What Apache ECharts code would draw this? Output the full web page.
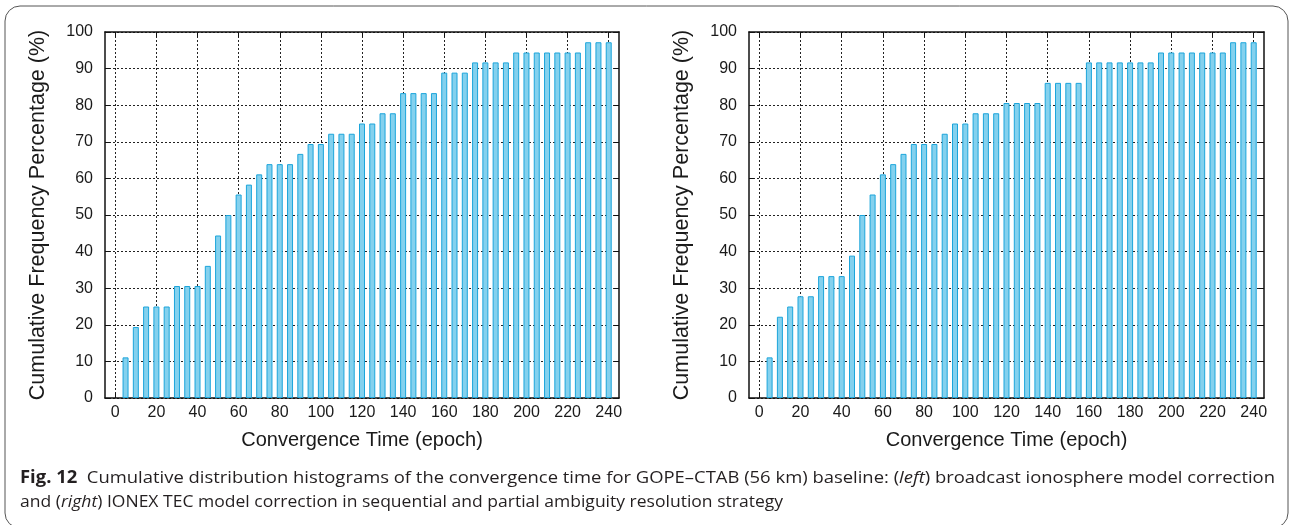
<!DOCTYPE html>
<html>
<head>
<meta charset="utf-8">
<script src="https://cdn.jsdelivr.net/npm/echarts@6/dist/echarts.min.js"></script>
<style>html,body{margin:0;padding:0;background:#fff;}#c{width:1290px;height:525px;}</style>
</head>
<body>
<div id="c"></div>
<script>
// ---- data ----
const epochs = [5,10,15,20,25,30,35,40,45,50,55,60,65,70,75,80,85,90,95,100,105,110,115,120,
                125,130,135,140,145,150,155,160,165,170,175,180,185,190,195,200,205,210,215,220,225,230,235,240];
const leftPct = [11.1,19.4,25.0,25.0,25.0,30.6,30.6,30.6,36.1,44.4,50.0,55.6,58.3,61.1,63.9,63.9,63.9,66.7,69.4,69.4,72.2,72.2,72.2,75.0,
                 75.0,77.8,77.8,83.3,83.3,83.3,83.3,88.9,88.9,88.9,91.7,91.7,91.7,91.7,94.4,94.4,94.4,94.4,94.4,94.4,94.4,97.2,97.2,97.2];
const rightPct = [11.1,22.2,25.0,27.8,27.8,33.3,33.3,33.3,38.9,50.0,55.6,61.1,63.9,66.7,69.4,69.4,69.4,72.2,75.0,75.0,77.8,77.8,77.8,80.6,
                  80.6,80.6,80.6,86.1,86.1,86.1,86.1,91.7,91.7,91.7,91.7,91.7,91.7,91.7,94.4,94.4,94.4,94.4,94.4,94.4,94.4,97.2,97.2,97.2];
const xTickValues = [0,20,40,60,80,100,120,140,160,180,200,220,240];
const xTitle = 'Convergence Time (epoch)';
const yTitle = 'Cumulative Frequency Percentage (%)';
const capBold = 'Fig. 12';
const capLine1a = '  Cumulative distribution histograms of the convergence time for GOPE\u2013CTAB (56 km) baseline: (';
const capLine1b = 'left';
const capLine1c = ') broadcast ionosphere model correction';
const capLine2a = 'and (';
const capLine2b = 'right';
const capLine2c = ') IONEX TEC model correction in sequential and partial ambiguity resolution strategy';

const chart = echarts.init(document.getElementById('c'), null, {renderer: 'canvas'});

const AX_FONT = 'Liberation Sans';
const dotted = {color: '#222', width: 1, type: [2, 2]};
const grids = [
  {left: 105, right: 671, top: 32, bottom: 127},
  {left: 749, right: 26, top: 32, bottom: 127}
];

const xAxes = [], yAxes = [], series = [];
[leftPct, rightPct].forEach((vals, g) => {
  const xMain = {
    type: 'value', gridIndex: g, min: -5, max: 245, position: 'bottom',
    name: xTitle, nameLocation: 'middle', nameGap: 32,
    nameTextStyle: {fontFamily: AX_FONT, fontSize: 20, color: '#1a1a1a'},
    axisLine: {show: true, onZero: false, lineStyle: {color: '#111', width: 1.5}},
    axisTick: {show: true, inside: true, length: 5, customValues: xTickValues, lineStyle: {color: '#111', width: 1}},
    axisLabel: {show: true, customValues: xTickValues, margin: 7, fontFamily: AX_FONT, fontSize: 16, color: '#1a1a1a'},
    splitLine: {show: true, lineStyle: dotted}
  };
  const xTop = {
    type: 'value', gridIndex: g, min: -5, max: 245, position: 'top',
    axisLine: {show: true, onZero: false, lineStyle: {color: '#111', width: 1.5}},
    axisTick: {show: true, inside: true, length: 5, customValues: xTickValues, lineStyle: {color: '#111', width: 1}},
    axisLabel: {show: false, customValues: xTickValues},
    splitLine: {show: false}
  };
  const yMain = {
    type: 'value', gridIndex: g, min: 0, max: 100, interval: 10, position: 'left',
    name: yTitle, nameLocation: 'middle', nameGap: 56,
    nameTextStyle: {fontFamily: AX_FONT, fontSize: 21.5, color: '#1a1a1a'},
    axisLine: {show: true, onZero: false, lineStyle: {color: '#111', width: 1.5}},
    axisTick: {show: true, inside: true, length: 5, lineStyle: {color: '#111', width: 1}},
    axisLabel: {show: true, margin: 12, fontFamily: AX_FONT, fontSize: 16, color: '#1a1a1a'},
    splitLine: {show: true, lineStyle: dotted}
  };
  const yRight = {
    type: 'value', gridIndex: g, min: 0, max: 100, interval: 10, position: 'right',
    axisLine: {show: true, onZero: false, lineStyle: {color: '#111', width: 1.5}},
    axisTick: {show: true, inside: true, length: 5, lineStyle: {color: '#111', width: 1}},
    axisLabel: {show: false},
    splitLine: {show: false}
  };
  xAxes.push(xMain, xTop);
  yAxes.push(yMain, yRight);
  series.push({
    type: 'bar', xAxisIndex: g * 2, yAxisIndex: g * 2, barWidth: 6,
    data: epochs.map((e, i) => [e, vals[i]]),
    itemStyle: {color: '#84d1ee', borderColor: '#1ca5db', borderWidth: 1},
    emphasis: {disabled: true}, silent: true
  });
});

// caption: measure text to fit the reference widths
const CAP_FONT = '"Open Sans"';
const CAP_SIZE = 17;
const mctx = document.createElement('canvas').getContext('2d');
function w(txt, style) { mctx.font = style + ' ' + CAP_SIZE + 'px ' + CAP_FONT; return mctx.measureText(txt).width; }
const line1W = w(capBold, 'bold') + w(capLine1a, 'normal') + w(capLine1b, 'italic') + w(capLine1c, 'normal');
const line2W = w(capLine2a, 'normal') + w(capLine2b, 'italic') + w(capLine2c, 'normal');
const capScale1 = 1255 / line1W;
const capScale2 = 763 / line2W;
const rich = {
  b: {fontFamily: CAP_FONT, fontSize: CAP_SIZE, fontWeight: 'bold', fill: '#231f20'},
  n: {fontFamily: CAP_FONT, fontSize: CAP_SIZE, fill: '#231f20'},
  i: {fontFamily: CAP_FONT, fontSize: CAP_SIZE, fontStyle: 'italic', fill: '#231f20'}
};

chart.setOption({
  backgroundColor: '#fff',
  animation: false,
  grid: grids,
  xAxis: xAxes,
  yAxis: yAxes,
  series: series,
  graphic: [
    {type: 'rect', shape: {x: 5, y: 6, width: 1283, height: 522, r: 15}, style: {fill: 'none', stroke: '#555', lineWidth: 1}, silent: true},
    {type: 'text', x: 20, y: 478, scaleX: capScale1, style: {
      text: '{b|' + capBold + '}{n|' + capLine1a + '}{i|' + capLine1b + '}{n|' + capLine1c + '}',
      rich: rich, verticalAlign: 'middle'}},
    {type: 'text', x: 20, y: 502, scaleX: capScale2, style: {
      text: '{n|' + capLine2a + '}{i|' + capLine2b + '}{n|' + capLine2c + '}',
      rich: rich, verticalAlign: 'middle'}}
  ]
});
</script>
</body>
</html>
